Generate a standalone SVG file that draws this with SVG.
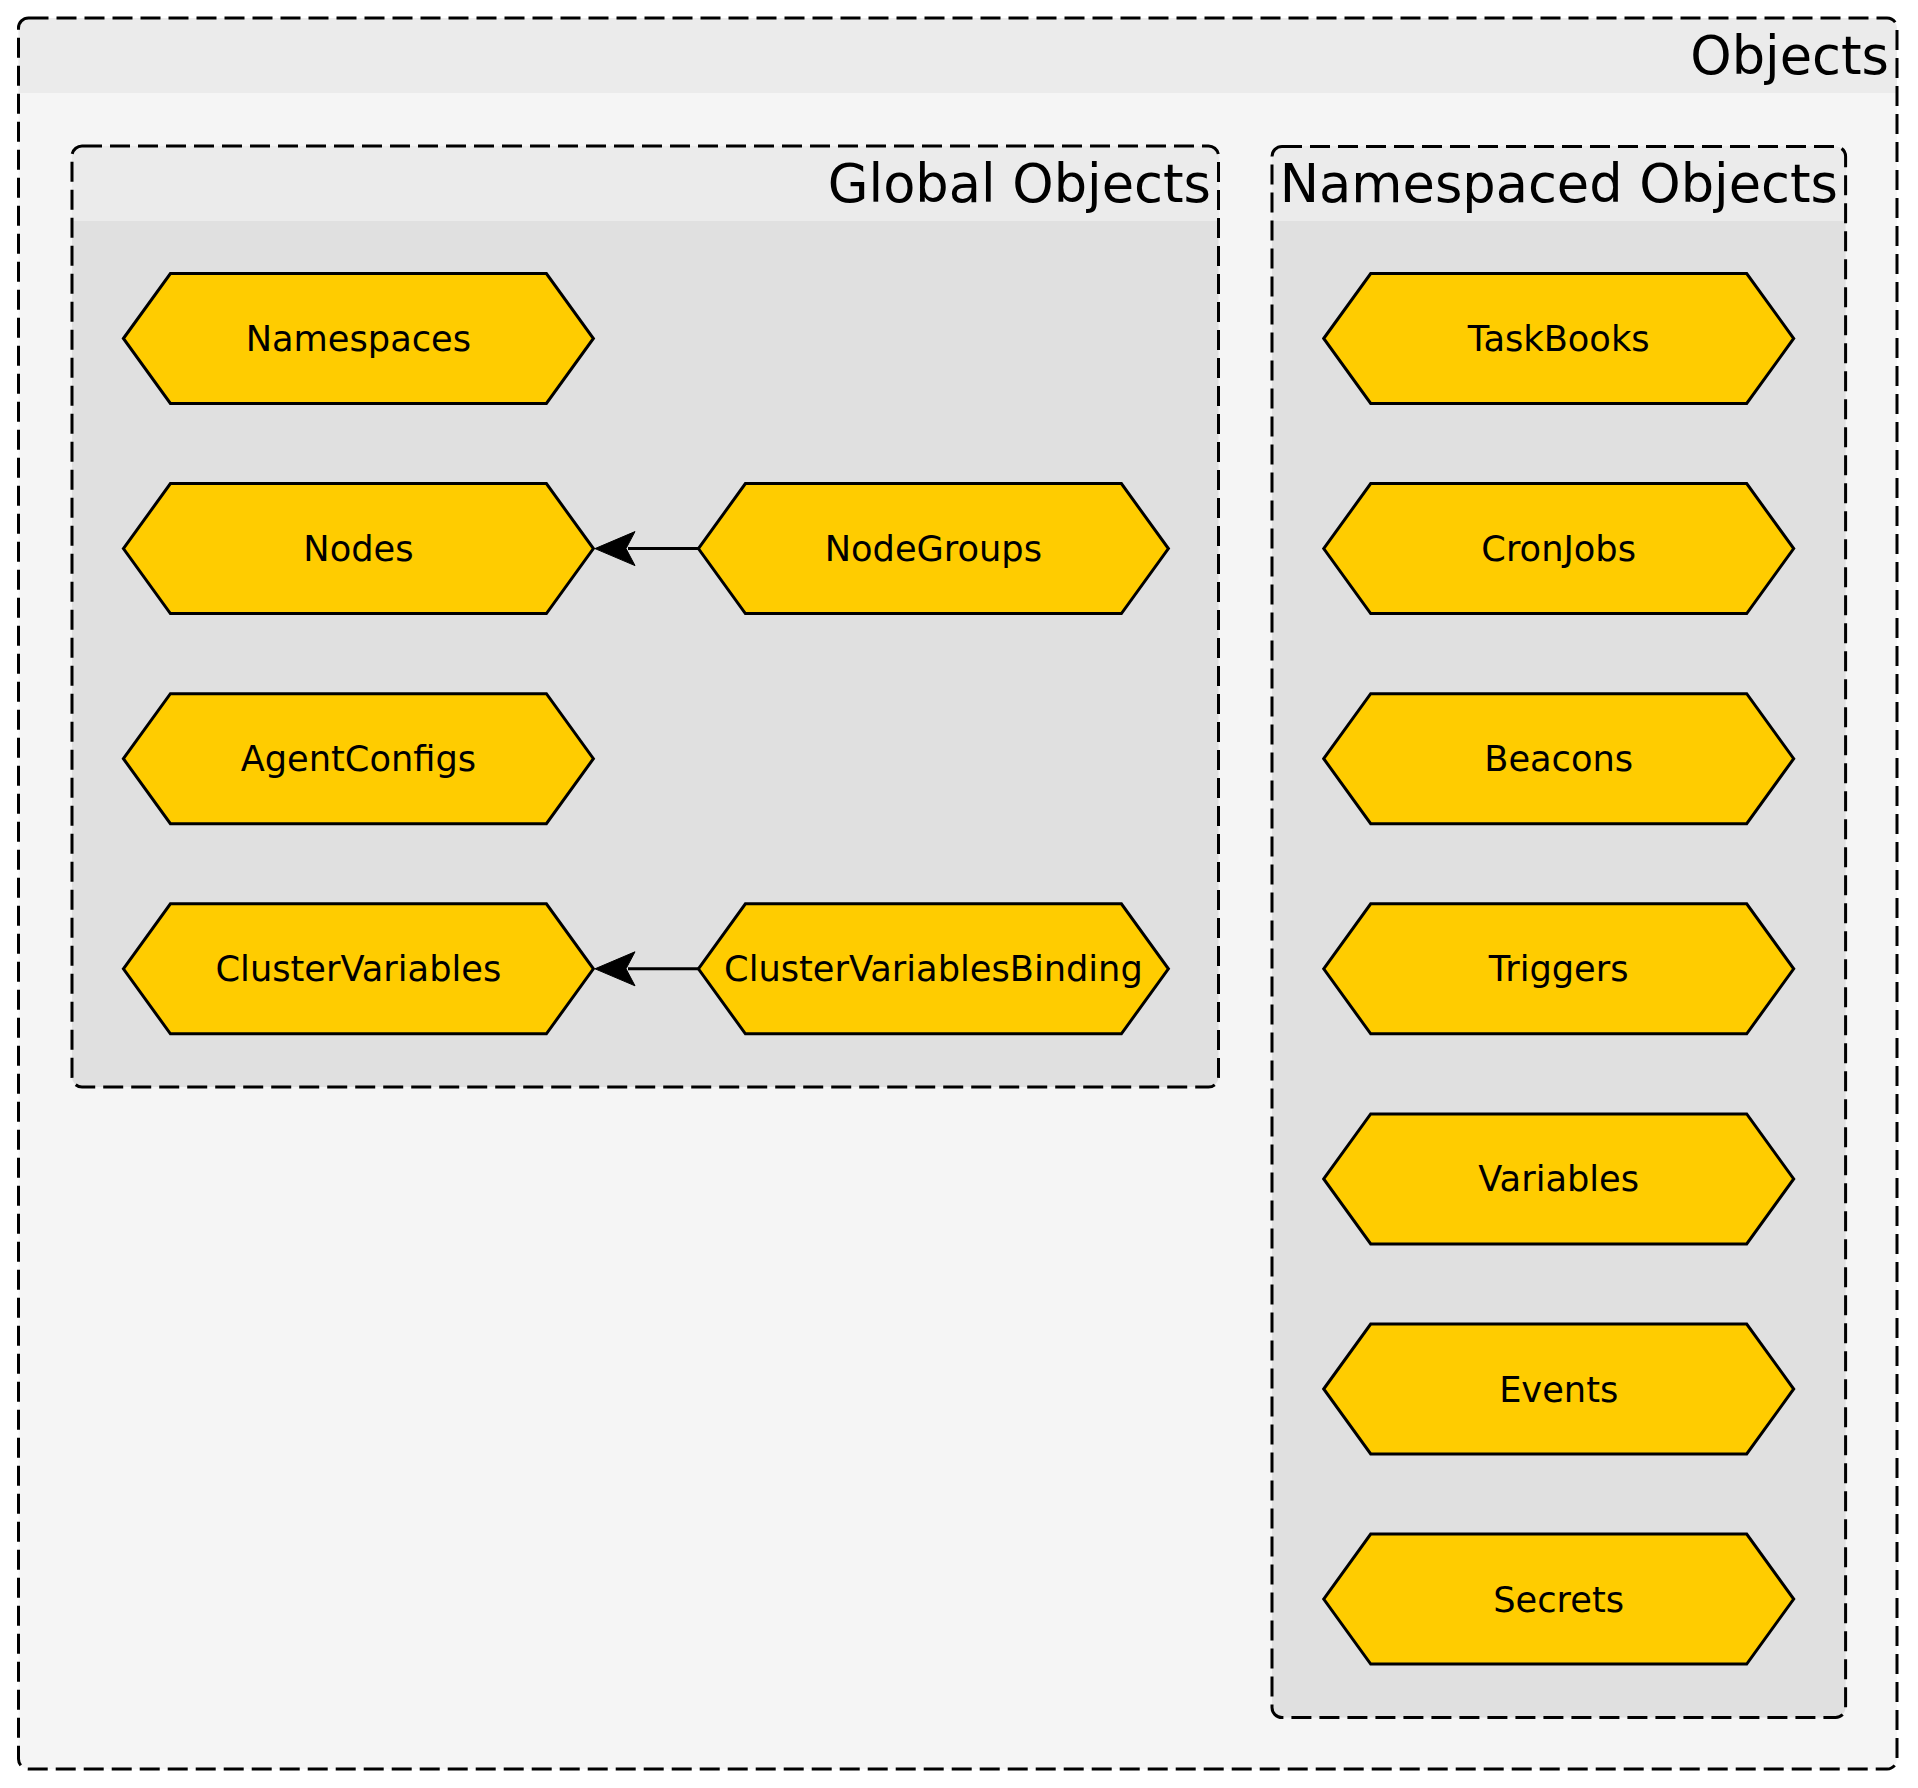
<svg xmlns="http://www.w3.org/2000/svg" width="1918" height="1788" viewBox="0 0 1918 1788">
<style>
.border{fill:none;stroke:#000;stroke-width:3;stroke-dasharray:20 8}
.title{font-family:"DejaVu Sans",sans-serif;font-size:52.6px;text-anchor:end;fill:#000}
.hex{fill:#ffcc00;stroke:#000;stroke-width:3;stroke-linejoin:miter}
.lbl{font-family:"DejaVu Sans",sans-serif;font-size:35.2px;text-anchor:middle;fill:#000}
.edge{stroke:#000;stroke-width:3;fill:none}
.head{fill:#000;stroke:#000;stroke-width:1}
</style>
<defs>
<polygon id="hx" class="hex" points="-235,0 -188,-65 188,-65 235,0 188,65 -188,65"/>
</defs>
<rect x="0" y="0" width="1918" height="1788" fill="#ffffff"/>
<g id="cluster-objects">
<rect x="18.5" y="18" width="1878.5" height="1751" rx="10" fill="#f5f5f5"/>
<path d="M18.5,93 V28 A10,10 0 0 1 28.5,18 H1887 A10,10 0 0 1 1897,28 V93 Z" fill="#ebebeb"/>
<rect class="border" x="18.5" y="18" width="1878.5" height="1751" rx="10"/>
<text class="title" x="1889" y="74">Objects</text>
</g>
<g id="cluster-global">
<rect x="72" y="146" width="1146.5" height="941" rx="10" fill="#e0e0e0"/>
<path d="M72,221 V156 A10,10 0 0 1 82,146 H1208.5 A10,10 0 0 1 1218.5,156 V221 Z" fill="#ebebeb"/>
<rect class="border" x="72" y="146" width="1146.5" height="941" rx="10"/>
<text class="title" x="1211" y="201.5">Global Objects</text>
</g>
<g id="cluster-namespaced">
<rect x="1272" y="146.5" width="573.6" height="1571" rx="10" fill="#e0e0e0"/>
<path d="M1272,221 V156.5 A10,10 0 0 1 1282,146.5 H1835.6 A10,10 0 0 1 1845.6,156.5 V221 Z" fill="#ebebeb"/>
<rect class="border" x="1272" y="146.5" width="573.6" height="1571" rx="10"/>
<text class="title" x="1838" y="201.5">Namespaced Objects</text>
</g>
<g id="connectors">
<g id="edge-nodegroups-nodes">
<line class="edge" x1="698.5" y1="548.6" x2="628" y2="548.6"/>
<path class="head" d="M595,548.6 L635,531.6 L626,548.6 L635,565.6 Z"/>
</g>
<g id="edge-cvbinding-cv">
<line class="edge" x1="698.5" y1="968.8" x2="628" y2="968.8"/>
<path class="head" d="M595,968.8 L635,951.8 L626,968.8 L635,985.8 Z"/>
</g>
</g>
<g id="node-namespaces"><use href="#hx" x="358.4" y="338.5"/><text class="lbl" x="358.4" y="351">Namespaces</text></g>
<g id="node-nodes"><use href="#hx" x="358.4" y="548.6"/><text class="lbl" x="358.4" y="561.1">Nodes</text></g>
<g id="node-agentconfigs"><use href="#hx" x="358.4" y="758.7"/><text class="lbl" x="358.4" y="771.2">AgentConfigs</text></g>
<g id="node-clustervariables"><use href="#hx" x="358.4" y="968.8"/><text class="lbl" x="358.4" y="981.3">ClusterVariables</text></g>
<g id="node-nodegroups"><use href="#hx" x="933.4" y="548.6"/><text class="lbl" x="933.4" y="561.1">NodeGroups</text></g>
<g id="node-clustervariablesbinding"><use href="#hx" x="933.4" y="968.8"/><text class="lbl" x="933.4" y="981.3">ClusterVariablesBinding</text></g>
<g id="node-taskbooks"><use href="#hx" x="1558.7" y="338.5"/><text class="lbl" x="1558.7" y="351">TaskBooks</text></g>
<g id="node-cronjobs"><use href="#hx" x="1558.7" y="548.6"/><text class="lbl" x="1558.7" y="561.1">CronJobs</text></g>
<g id="node-beacons"><use href="#hx" x="1558.7" y="758.7"/><text class="lbl" x="1558.7" y="771.2">Beacons</text></g>
<g id="node-triggers"><use href="#hx" x="1558.7" y="968.8"/><text class="lbl" x="1558.7" y="981.3">Triggers</text></g>
<g id="node-variables"><use href="#hx" x="1558.7" y="1178.9"/><text class="lbl" x="1558.7" y="1191.4">Variables</text></g>
<g id="node-events"><use href="#hx" x="1558.7" y="1389"/><text class="lbl" x="1558.7" y="1401.5">Events</text></g>
<g id="node-secrets"><use href="#hx" x="1558.7" y="1599.1"/><text class="lbl" x="1558.7" y="1611.6">Secrets</text></g>
</svg>
